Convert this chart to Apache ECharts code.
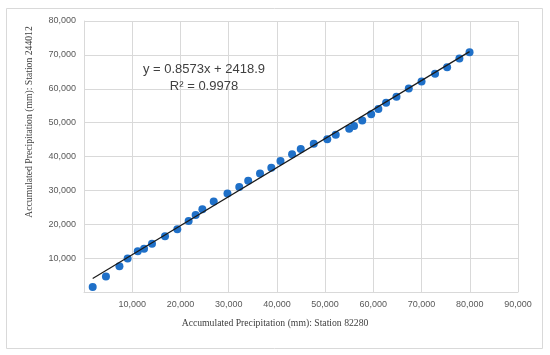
<!DOCTYPE html>
<html>
<head>
<meta charset="utf-8">
<script src="https://cdn.jsdelivr.net/npm/echarts@6/dist/echarts.min.js"></script>
<style>html,body{margin:0;padding:0;background:#fff;}#c{width:550px;height:355px;}</style>
</head>
<body>
<div id="c"></div>
<script>
// Accumulated precipitation (mm): Station 82280 (x) vs Station 244012 (y)
var station82280 = [1800, 4550, 7350, 9050, 11150, 12450, 14100, 16800, 19350, 21700, 23150, 24550, 26900, 29750, 32200, 34050, 36500, 38850, 40750, 43150, 44950, 47650, 50450, 52200, 55000, 56000, 57700, 59550, 61050, 62650, 64800, 67350, 70000, 72800, 75300, 77850, 79950];
var station244012 = [1500, 4600, 7600, 9900, 12000, 12800, 14250, 16450, 18550, 20950, 22750, 24400, 26750, 29100, 31000, 32850, 34950, 36700, 38650, 40650, 42200, 43800, 45100, 46450, 48200, 49000, 50650, 52500, 54000, 55850, 57650, 60100, 62150, 64400, 66350, 68950, 70800];
var trendSlope = 0.8573;
var trendIntercept = 2418.9;
var equationText = 'y = 0.8573x + 2418.9';
var r2Text = 'R² = 0.9978';
var xTitle = 'Accumulated Precipitation (mm): Station 82280';
var yTitle = 'Accumulated Precipitation (mm): Station 244012';

var points = station82280.map(function (x, i) { return [x, station244012[i]]; });
var xMin = Math.min.apply(null, station82280), xMax = Math.max.apply(null, station82280);
var trend = [[xMin, trendSlope * xMin + trendIntercept], [xMax, trendSlope * xMax + trendIntercept]];

var chart = echarts.init(document.getElementById('c'), null, {renderer: 'canvas'});
var fmt = function (v) { return v === 0 ? '' : v.toLocaleString('en-US'); };
var labelStyle = {color: '#595959', fontSize: 9, fontFamily: 'Liberation Sans'};
chart.setOption({
  animation: false,
  backgroundColor: '#fff',
  grid: {left: 84, right: 32, top: 21, bottom: 63, containLabel: false},
  xAxis: {
    type: 'value', min: 0, max: 90000, interval: 10000,
    axisLine: {show: true, lineStyle: {color: '#d9d9d9'}},
    axisTick: {show: false},
    splitLine: {show: true, lineStyle: {color: '#d9d9d9'}},
    axisLabel: Object.assign({formatter: fmt, margin: 8}, labelStyle)
  },
  yAxis: {
    type: 'value', min: 0, max: 80000, interval: 10000,
    axisLine: {show: true, lineStyle: {color: '#d9d9d9'}},
    axisTick: {show: false},
    splitLine: {show: true, lineStyle: {color: '#d9d9d9'}},
    axisLabel: Object.assign({formatter: fmt, margin: 8}, labelStyle)
  },
  graphic: [
    {type: 'rect', shape: {x: 6.5, y: 8.5, width: 536, height: 340}, style: {fill: 'none', stroke: '#d9d9d9', lineWidth: 1}, z: -1},
    {type: 'text', x: 275, y: 323, z: 10, style: {text: xTitle, fill: '#404040', font: '9.7px "Liberation Serif"', align: 'center', verticalAlign: 'middle'}},
    {type: 'text', x: 29, y: 122, z: 10, rotation: Math.PI / 2, style: {text: yTitle, fill: '#404040', font: '9.7px "Liberation Serif"', align: 'center', verticalAlign: 'middle'}},
    {type: 'text', x: 204, y: 69, z: 10, style: {text: equationText, fill: '#404040', font: '13px "Liberation Sans"', align: 'center', verticalAlign: 'middle'}},
    {type: 'text', x: 204, y: 86, z: 10, style: {text: r2Text, fill: '#404040', font: '13px "Liberation Sans"', align: 'center', verticalAlign: 'middle'}}
  ],
  series: [
    {type: 'scatter', data: points, symbol: 'circle', symbolSize: 8, itemStyle: {color: '#1F70C8', opacity: 1}, z: 2},
    {type: 'line', data: trend, symbol: 'none', lineStyle: {color: '#1a1a1a', width: 1.2}, z: 3, silent: true}
  ]
});
</script>
</body>
</html>
